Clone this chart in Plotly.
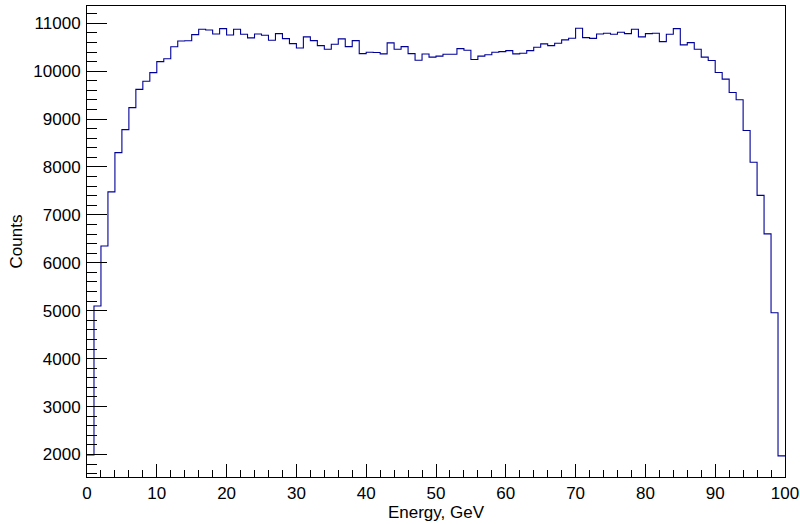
import numpy as np
import plotly.graph_objects as go

# Histogram definition: 100 bins from 0 to 100 GeV
n_bins = 100
x_min, x_max = 0.0, 100.0

counts = [
    1990, 5100, 6350, 7480, 8300, 8780, 9240, 9620, 9790, 9970,
    10200, 10260, 10510, 10630, 10635, 10763, 10875, 10860, 10777, 10888,
    10756, 10875, 10771, 10694, 10777, 10750, 10646, 10783, 10679, 10575,
    10485, 10715, 10638, 10533, 10458, 10563, 10673, 10513, 10638, 10367,
    10396, 10388, 10360, 10590, 10458, 10513, 10367, 10228, 10357, 10292,
    10313, 10354, 10354, 10471, 10438, 10242, 10313, 10344, 10396, 10408,
    10429, 10360, 10375, 10429, 10500, 10569, 10533, 10583, 10652, 10688,
    10896, 10700, 10685, 10775, 10792, 10771, 10812, 10783, 10875, 10715,
    10783, 10792, 10617, 10771, 10888, 10548, 10596, 10458, 10292, 10221,
    9971, 9833, 9554, 9402, 8763, 8100, 7408, 6604, 4958, 1971,
]

x_ticks = [0, 10, 20, 30, 40, 50, 60, 70, 80, 90, 100]
y_ticks = [2000, 3000, 4000, 5000, 6000, 7000, 8000, 9000, 10000, 11000]

edges = np.linspace(x_min, x_max, n_bins + 1)
xs = list(edges)
ys = counts + [counts[-1]]

FONT = "Liberation Sans, Arial, Helvetica, sans-serif"

fig = go.Figure()
fig.add_trace(go.Scatter(
    x=xs, y=ys, mode="lines", line=dict(color="#000099", width=1.1, shape="hv"),
    hoverinfo="skip", showlegend=False,
))

axis_common = dict(
    showline=True, linecolor="black", linewidth=1, mirror=True,
    showgrid=False, zeroline=False, automargin=False,
    ticks="inside", tickcolor="black", tickwidth=1,
    tickfont=dict(family=FONT, size=17, color="black"),
)

fig.update_xaxes(
    range=[x_min, x_max], tickvals=x_ticks, ticktext=[str(v) for v in x_ticks],
    ticklen=13,
    minor=dict(ticks="inside", ticklen=7, dtick=2, tick0=0, tickcolor="black", tickwidth=1, showgrid=False),
    title=dict(text="Energy, GeV", font=dict(family=FONT, size=17, color="black"), standoff=1),
    ticklabelstandoff=1,
    **axis_common,
)
fig.update_yaxes(
    range=[1530, 11360], tickvals=y_ticks, ticktext=[str(v) for v in y_ticks],
    ticklen=20,
    minor=dict(ticks="inside", ticklen=10, dtick=200, tick0=0, tickcolor="black", tickwidth=1, showgrid=False),
    title=dict(text="Counts", font=dict(family=FONT, size=17, color="black"), standoff=6),
    ticklabelstandoff=2,
    **axis_common,
)

fig.update_layout(
    width=800, height=524,
    margin=dict(l=87, r=15, t=6, b=47, pad=0),
    paper_bgcolor="white", plot_bgcolor="white",
    font=dict(family=FONT, size=17, color="black"),
)

fig.write_html("out.html", include_plotlyjs=True, full_html=True,
               config={"displayModeBar": False})
